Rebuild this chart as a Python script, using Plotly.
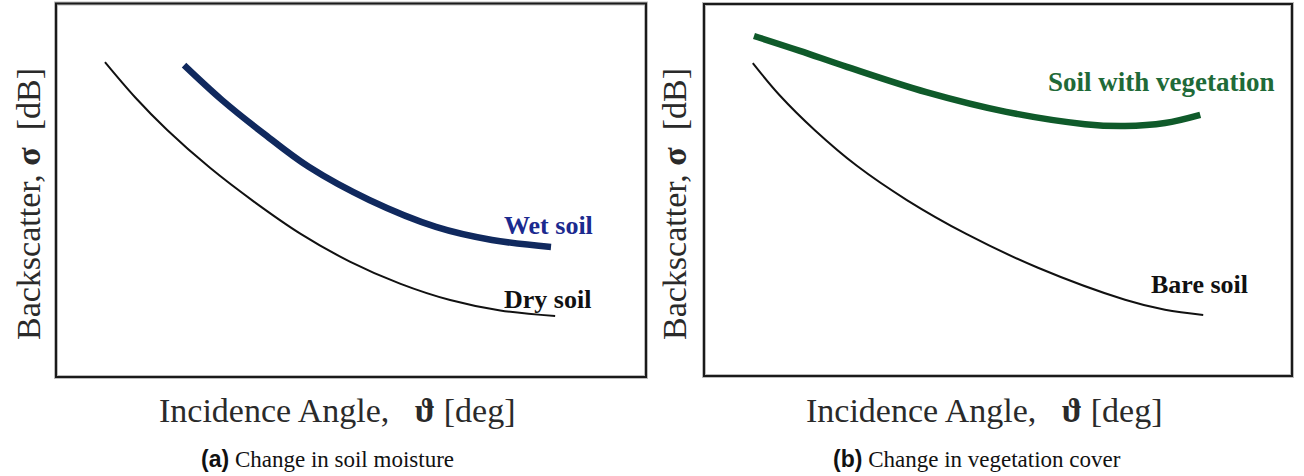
import plotly.graph_objects as go

# Incidence angle / backscatter sketch curves (relative units, 0-100)
dry_x = [8.3, 13.4, 18.8, 26.1, 33.6, 41.4, 49.8, 58.3, 66.8, 75.3, 84.6]
dry_y = [84.3, 74.9, 66.2, 56.0, 46.9, 38.4, 30.9, 25.0, 20.6, 17.8, 16.3]

wet_x = [21.7, 28.1, 35.1, 42.9, 53.1, 64.4, 73.9, 83.9]
wet_y = [83.5, 74.2, 65.3, 56.2, 47.4, 40.2, 36.7, 34.8]

veg_x = [8.5, 16.3, 24.3, 37.8, 51.4, 64.8, 71.6, 78.4, 84.4]
veg_y = [91.4, 87.4, 83.1, 76.3, 71.0, 67.7, 67.2, 68.0, 70.2]

bare_x = [8.3, 12.9, 18.9, 26.0, 34.5, 44.6, 56.8, 71.6, 78.4, 84.9]
bare_y = [84.1, 75.4, 66.0, 56.5, 47.3, 38.2, 29.1, 20.5, 17.8, 16.4]

curve_labels = ["Wet soil", "Dry soil", "Soil with vegetation", "Bare soil"]
captions = ["Change in soil moisture", "Change in vegetation cover"]
panel_tags = ["(a)", "(b)"]

NAVY = "#10295e"
NAVY_TEXT = "#1b2a8f"
GREEN = "#0f5a2a"
GREEN_TEXT = "#1f6a38"
SERIF = "Liberation Serif, Times New Roman, serif"

W, H = 1304, 476
fig = go.Figure()

def line(x, y, color, width, xa, ya):
    fig.add_trace(go.Scatter(x=x, y=y, mode="lines", xaxis=xa, yaxis=ya,
                             line=dict(color=color, width=width, shape="spline", smoothing=1.0),
                             hoverinfo="skip", showlegend=False))

line(dry_x, dry_y, "#111111", 2, "x", "y")
line(wet_x, wet_y, NAVY, 6.5, "x", "y")
line(bare_x, bare_y, "#111111", 2, "x2", "y2")
line(veg_x, veg_y, GREEN, 6.5, "x2", "y2")

ax = dict(range=[0, 100], showgrid=False, zeroline=False, showticklabels=False,
          ticks="", showline=False, fixedrange=True)
fig.update_layout(
    width=W, height=H, margin=dict(l=0, r=0, t=0, b=0),
    paper_bgcolor="white", plot_bgcolor="white",
    xaxis=dict(domain=[56 / W, 646 / W], **ax),
    yaxis=dict(domain=[1 - 377 / H, 1 - 3.5 / H], **ax),
    xaxis2=dict(domain=[704 / W, 1292 / W], anchor="y2", **ax),
    yaxis2=dict(domain=[1 - 376 / H, 1 - 4 / H], anchor="x2", **ax),
)

# panel frames
for xr, yr in [("x domain", "y domain"), ("x2 domain", "y2 domain")]:
    fig.add_shape(type="rect", xref=xr, yref=yr, x0=0, x1=1, y0=0, y1=1,
                  line=dict(color="#bbbbbb", width=4), layer="below")
    fig.add_shape(type="rect", xref=xr, yref=yr, x0=0, x1=1, y0=0, y1=1,
                  line=dict(color="#1a1a1a", width=2))

# curve labels
lab = dict(showarrow=False, xanchor="left", yanchor="middle")
fig.add_annotation(x=75.6, y=40.5, xref="x", yref="y", text="<b>" + curve_labels[0] + "</b>",
                   font=dict(family=SERIF, size=26, color=NAVY_TEXT), **lab)
fig.add_annotation(x=75.6, y=20.8, xref="x", yref="y", text="<b>" + curve_labels[1] + "</b>",
                   font=dict(family=SERIF, size=26, color="#111111"), **lab)
fig.add_annotation(x=58.2, y=78.9, xref="x2", yref="y2", text="<b>" + curve_labels[2] + "</b>",
                   font=dict(family=SERIF, size=27, color=GREEN_TEXT), **lab)
fig.add_annotation(x=75.6, y=24.6, xref="x2", yref="y2", text="<b>" + curve_labels[3] + "</b>",
                   font=dict(family=SERIF, size=26, color="#111111"), **lab)

ytitle = "Backscatter, <b>σ</b>\u00a0\u00a0[dB]"
xtitle = "Incidence Angle,\u00a0\u00a0\u00a0<b>ϑ</b> [deg]"

for i, (xc_t, xc_y, xc_c) in enumerate([(337, 28, 327), (984, 674, 977)]):
    fig.add_annotation(x=xc_y / W, y=1 - 204 / H, xref="paper", yref="paper", text=ytitle,
                       textangle=-90, showarrow=False, xanchor="center", yanchor="middle",
                       font=dict(family=SERIF, size=34, color="#2a2a2a"))
    fig.add_annotation(x=xc_t / W, y=1 - 410 / H, xref="paper", yref="paper", text=xtitle,
                       showarrow=False, xanchor="center", yanchor="middle",
                       font=dict(family=SERIF, size=34, color="#2a2a2a"))
    fig.add_annotation(x=xc_c / W, y=1 - 459 / H, xref="paper", yref="paper",
                       text="<span style='font-family:Liberation Sans'><b>" + panel_tags[i] + "</b></span> " + captions[i],
                       showarrow=False, xanchor="center", yanchor="middle",
                       font=dict(family=SERIF, size=23, color="#111111"))

fig.write_html("out.html")
